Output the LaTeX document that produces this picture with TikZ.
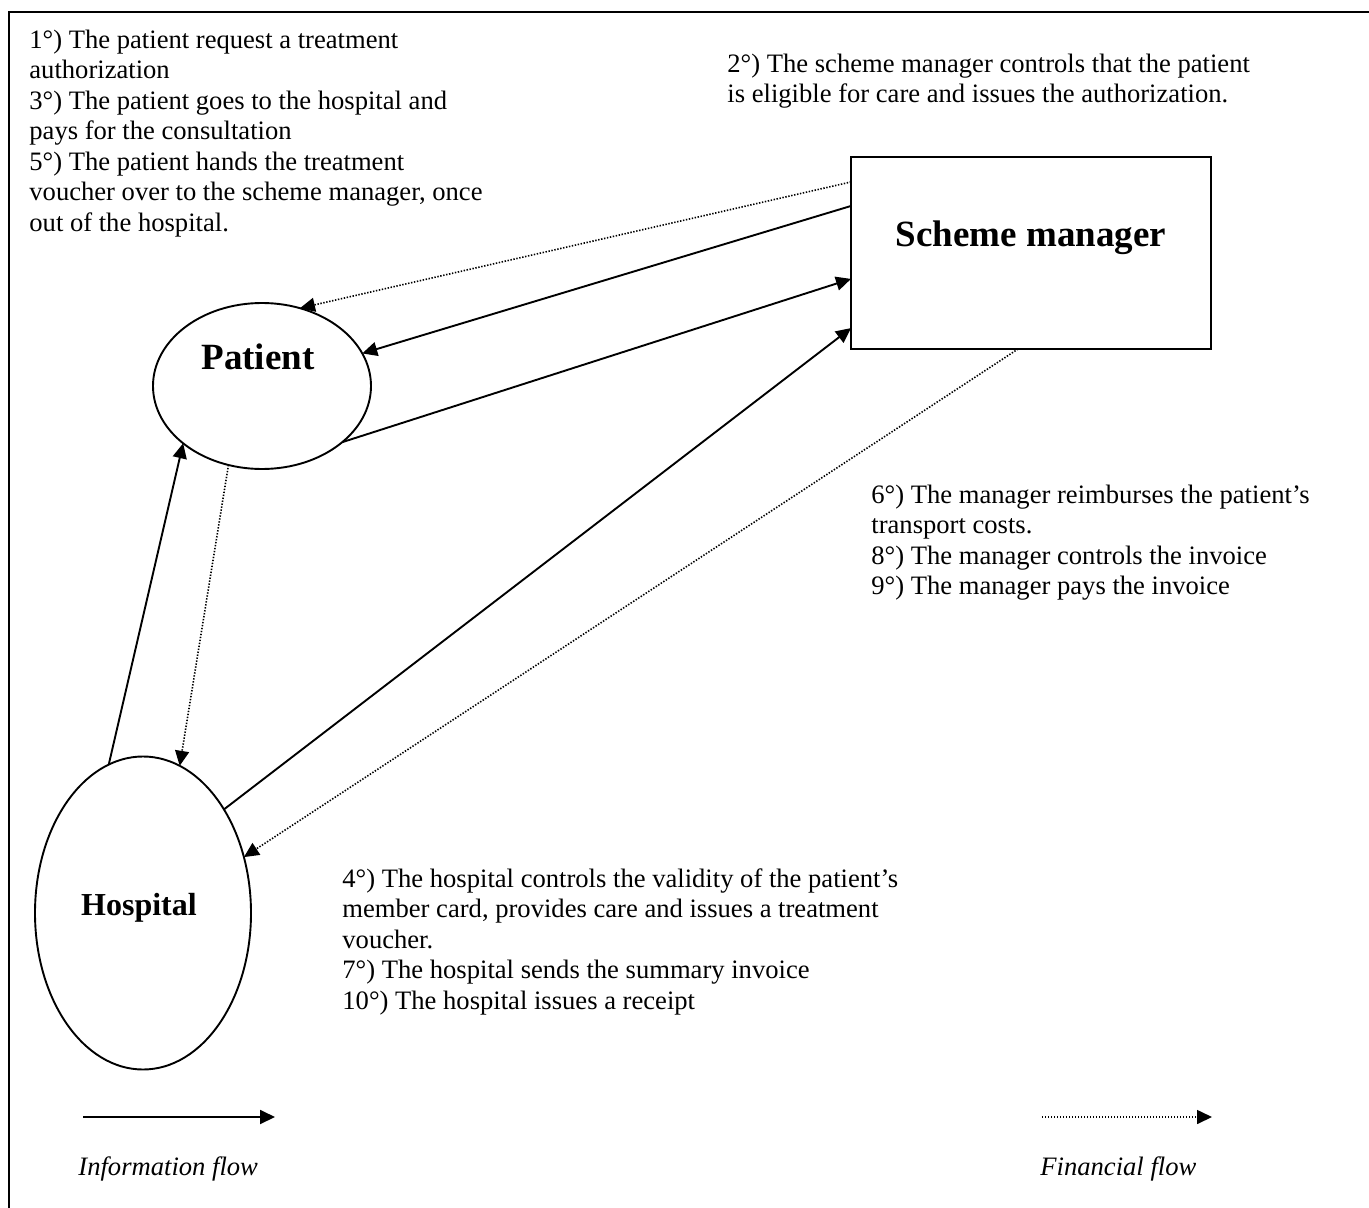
\documentclass[tikz,border=0pt]{standalone}
\usepackage{fontspec}
\setmainfont{Liberation Serif}
\usetikzlibrary{shapes.geometric,arrows.meta,calc}
\begin{document}
\begin{tikzpicture}[x=0.5pt,y=-0.5pt,
  info/.style={line width=0.95pt,-{Triangle[length=7.5pt,width=7pt]}},
  fin/.style={line width=0.8pt,dash pattern=on 0.7pt off 0.8pt,-{Triangle[length=7.5pt,width=7pt]}},
  shapeline/.style={draw,line width=0.95pt,inner sep=0pt,outer sep=0pt},
  txt/.style={anchor=north west,align=left,inner sep=0pt,font=\fontsize{13.3}{15.25}\selectfont},
  lgd/.style={anchor=base west,inner sep=0pt,font=\fontsize{13.3}{15.25}\selectfont\itshape},
  biglbl/.style={anchor=base,inner sep=0pt,font=\fontsize{18.5}{22}\selectfont\bfseries}]
\useasboundingbox (0,0) rectangle (1369,1208);
% frame
\draw[line width=1pt] (9,1208) -- (9,12) -- (1369,12);
% main shapes
\node[shapeline,ellipse,minimum width=109pt,minimum height=83pt] (patient) at (262,386) {};
\node[shapeline,ellipse,minimum width=108pt,minimum height=156.5pt] (hospital) at (143,913) {};
\node[shapeline,rectangle,minimum width=180pt,minimum height=96pt] (sm) at (1031,253) {};
% labels
\node[biglbl] (patientlbl) at (258,370) {Patient};
\node[biglbl] (smlbl) at (1031,247) {Scheme manager};
\node[biglbl,font=\fontsize{16}{19}\selectfont\bfseries] (hosplbl) at (139,915) {Hospital};
% texts
\node[txt] (t1) at (29,26.6) {\strut 1°) The patient request a treatment\\authorization\\3°) The patient goes to the hospital and\\pays for the consultation\\5°) The patient hands the treatment\\voucher over to the scheme manager, once\\out of the hospital.};
\node[txt] (t2) at (727,50.6) {\strut 2°) The scheme manager controls that the patient\\is eligible for care and issues the authorization.};
\node[txt] (t3) at (871,481.6) {\strut 6°) The manager reimburses the patient’s\\transport costs.\\8°) The manager controls the invoice\\9°) The manager pays the invoice};
\node[txt] (t4) at (342,865.6) {\strut 4°) The hospital controls the validity of the patient’s\\member card, provides care and issues a treatment\\voucher.\\7°) The hospital sends the summary invoice\\10°) The hospital issues a receipt};
% connector points on the box
\coordinate (s1) at ($(sm.north west)!0.130!(sm.south west)$);
\coordinate (s2) at ($(sm.north west)!0.255!(sm.south west)$);
\coordinate (s3) at ($(sm.north west)!0.635!(sm.south west)$);
\coordinate (s4) at ($(sm.north west)!0.891!(sm.south west)$);
\coordinate (s5) at ($(sm.south west)!0.464!(sm.south east)$);
% connectors
\draw[fin] (s1) -- (patient.64.5);
\draw[info] (s2) -- (patient.18);
\draw[info] (patient.-35) -- (s3);
\draw[info] (hospital.52) -- (s4);
\draw[fin] (s5) -- (hospital.29);
\draw[info] (hospital.103) -- (patient.216);
\draw[fin] (patient.247.5) -- (hospital.76.7);
% legend
\coordinate (ia1) at (83,1117);
\coordinate (ia2) at (275,1117);
\coordinate (fa1) at (1042,1117);
\coordinate (fa2) at (1212,1117);
\draw[info] (ia1) -- (ia2);
\draw[fin] (fa1) -- (fa2);
\node[lgd] (il) at (78,1175) {Information flow};
\node[lgd] (fl) at (1040,1175) {Financial flow};
\end{tikzpicture}
\end{document}
